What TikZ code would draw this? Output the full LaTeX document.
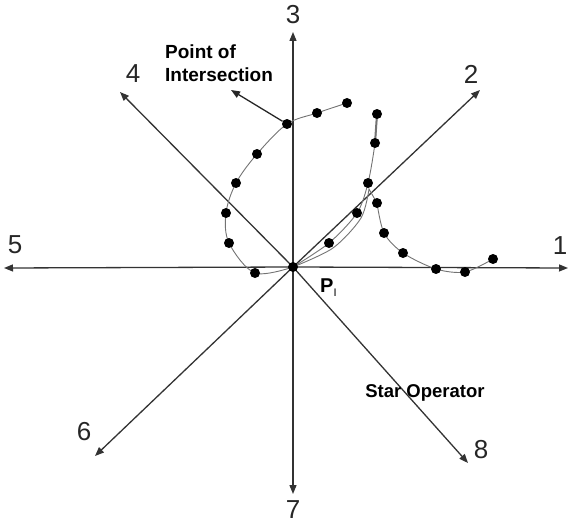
\documentclass[tikz,border=0pt]{standalone}
\usepackage{fontspec}
\setmainfont{Liberation Sans}
\usetikzlibrary{arrows.meta}
\begin{document}
\begin{tikzpicture}[x=1pt,y=-1pt,
  axis/.style={draw=black!80,line width=1.3pt,-{Triangle[length=9pt,width=7pt]}},
  numlab/.style={font=\fontsize{26}{26}\selectfont,text=black!85,inner sep=0pt},
  boldlab/.style={font=\fontsize{19}{23}\selectfont\bfseries,inner sep=0pt,align=left},
  curve/.style={draw=black!55,line width=0.9pt},
  dot/.style={circle,fill=black,inner sep=0pt,minimum size=10pt}]
\useasboundingbox (0,0) rectangle (569,524);
% centre
\coordinate (o) at (293,267);
% axis tips
\coordinate (t1) at (568,268);
\coordinate (t2) at (480,90);
\coordinate (t3) at (293,32);
\coordinate (t4) at (120,92);
\coordinate (t5) at (4,268);
\coordinate (t6) at (95,456);
\coordinate (t7) at (293,494);
\coordinate (t8) at (468,463);
\foreach \i in {1,...,8} \draw[axis] (o) -- (t\i);
% axis labels
\node[numlab] (l1) at (560,246) {1};
\node[numlab] (l2) at (471,74) {2};
\node[numlab] (l3) at (293,15) {3};
\node[numlab] (l4) at (133,74) {4};
\node[numlab] (l5) at (15,245) {5};
\node[numlab] (l6) at (84,432) {6};
\node[numlab] (l7) at (293,510) {7};
\node[numlab] (l8) at (481,450) {8};
% curves
\draw[curve] plot[smooth,tension=0.55] coordinates {(347,103) (317,113) (287,124) (257,154) (236,183) (226,213) (229,243) (255,273) (293,267)};
\draw[curve] plot[smooth,tension=0.5] coordinates {(293,267) (329,243) (357,213) (368,183) (375,143) (377,114)};
\draw[draw=black!55,line width=2pt] (377,114) -- (375,143);
\draw[curve] plot[smooth,tension=0.5] coordinates {(293,267) (333,248) (361,218) (369,189)} -- (377,203)
  plot[smooth,tension=0.5] coordinates {(377,203) (384,233) (403,253) (436,269) (465,272) (493,259)};
% dots
\foreach \n/\p in {a1/{(347,103)},a2/{(317,113)},a3/{(287,124)},a4/{(257,154)},a5/{(236,183)},a6/{(226,213)},a7/{(229,243)},a8/{(255,273)},
  b1/{(329,243)},b2/{(357,213)},b3/{(368,183)},b4/{(375,143)},b5/{(377,114)},
  c1/{(377,203)},c2/{(384,233)},c3/{(403,253)},c4/{(436,269)},c5/{(465,272)},c6/{(493,259)},c0/{(293,267)}}
  \node[dot] (\n) at \p {};
% texts
\node[boldlab,anchor=west] (poi) at (165,63) {Point of\\Intersection};
\coordinate (poitip) at (231,90);
\draw[draw=black!85,line width=1.3pt,-{Triangle[length=9pt,width=7pt]}] (a3) -- (poitip);
\node[font=\fontsize{20}{20}\selectfont\bfseries,inner sep=0pt,anchor=west] (pi) at (320,288) {P\raisebox{-4pt}{\fontsize{11}{11}\selectfont\mdseries I}};
\node[font=\fontsize{18.5}{20}\selectfont\bfseries,inner sep=0pt] (star) at (425,393) {Star Operator};
\end{tikzpicture}
\end{document}
